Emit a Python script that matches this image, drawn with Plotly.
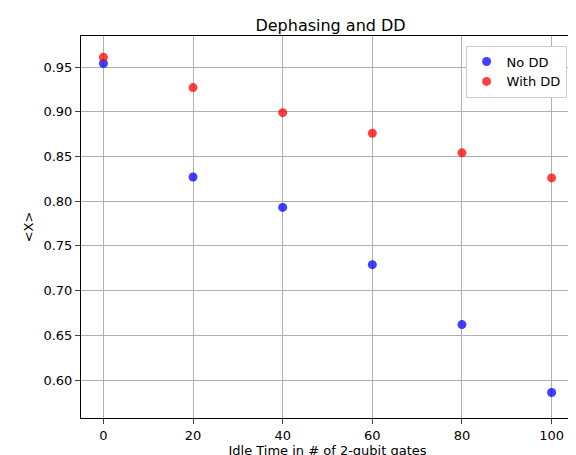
import plotly.graph_objects as go

idle_time = [0, 20, 40, 60, 80, 100]
no_dd = [0.954, 0.827, 0.793, 0.729, 0.662, 0.586]
with_dd = [0.961, 0.927, 0.899, 0.876, 0.854, 0.826]

fig = go.Figure()
fig.add_trace(go.Scatter(x=idle_time, y=no_dd, mode="markers", name="No DD",
                         marker=dict(color="rgba(0,0,255,0.75)", size=9)))
fig.add_trace(go.Scatter(x=idle_time, y=with_dd, mode="markers", name="With DD",
                         marker=dict(color="rgba(255,0,0,0.75)", size=9)))
axis = dict(showline=True, linecolor="black", mirror=True, ticks="outside",
            showgrid=True, gridcolor="#b0b0b0", zeroline=False, automargin=False,
            tickfont=dict(size=13, color="black"))
fig.update_layout(
    width=576, height=455, plot_bgcolor="white", paper_bgcolor="white",
    font=dict(family="DejaVu Sans", color="black"),
    margin=dict(l=73, r=10, t=28, b=45),
    title=dict(text="Dephasing and DD", x=0.56, xanchor="center", y=0.975, font=dict(size=16)),
    xaxis=dict(axis, range=[-5, 105], tickvals=idle_time,
               title=dict(text="Idle Time in # of 2-qubit gates", font=dict(size=13), standoff=4)),
    yaxis=dict(axis, range=[0.5575, 0.9847], dtick=0.05, tickformat=".2f",
               title=dict(text="<X>", font=dict(size=13), standoff=6)),
    legend=dict(x=0.985, y=0.975, xanchor="right", yanchor="top",
                bordercolor="#cccccc", borderwidth=1, font=dict(size=13)),
)
fig.write_html("out.html")
